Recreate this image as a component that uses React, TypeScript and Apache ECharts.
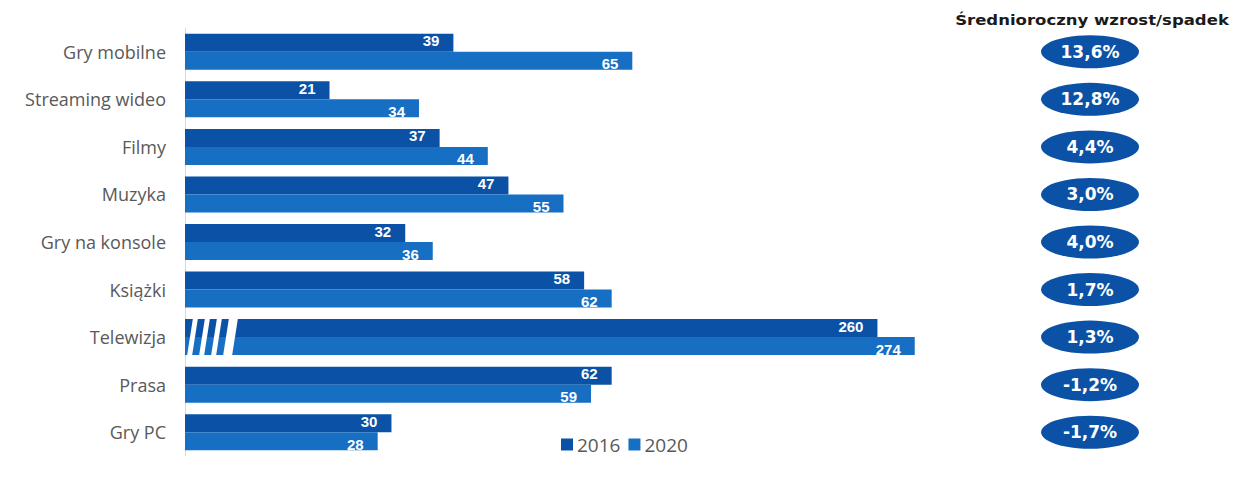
import React, { useEffect, useRef } from "react";
import * as echarts from "echarts";

const categories = ["Gry mobilne", "Streaming wideo", "Filmy", "Muzyka", "Gry na konsole", "Książki", "Telewizja", "Prasa", "Gry PC"];
const values2016 = [39, 21, 37, 47, 32, 58, 260, 62, 30];
const values2020 = [65, 34, 44, 55, 36, 62, 274, 59, 28];
const growth = ["13,6%", "12,8%", "4,4%", "3,0%", "4,0%", "1,7%", "1,3%", "-1,2%", "-1,7%"];
const seriesNames = ["2016", "2020"];
const growthTitle = "Średnioroczny wzrost/spadek";
// The "Telewizja" bars are drawn on a shortened (broken) scale in the original
const brokenCategory = "Telewizja";
const brokenFactor = 0.387;

const C2016 = "#0b52a6";
const C2020 = "#166fc3";

export default function App() {
  const ref = useRef<HTMLDivElement>(null);
  useEffect(() => {
    document.body.style.margin = "0";
    const chart = echarts.init(ref.current!, null, { renderer: "svg" });
    const mk = (vals: number[], off: number) =>
      vals.map((v, i) => ({
        value: categories[i] === brokenCategory ? v * brokenFactor : v,
        raw: v,
        label: { offset: [0, off] },
      }));
    const labelCfg = {
      show: true,
      position: "insideRight",
      distance: 14,
      color: "#ffffff",
      fontWeight: "bold",
      fontSize: 15,
      fontFamily: "'Liberation Sans Narrow', 'Liberation Sans', Arial, sans-serif",
      formatter: (p: any) => String(p.data.raw),
    };
    chart.setOption({
      animation: false,
      legend: {
        data: seriesNames,
        left: 556,
        top: 430,
        itemWidth: 12,
        itemHeight: 12,
        itemGap: 8,
        icon: "rect",
        textStyle: { color: "#595959", fontSize: 19, fontFamily: "'Open Sans', sans-serif", padding: [0, 0, 0, -1] },
      },
      grid: [
        { left: 185, top: 28, width: 757, height: 428 },
        { left: 1040, top: 28, width: 100, height: 428 },
      ],
      xAxis: [
        { type: "value", gridIndex: 0, min: 0, max: 110, show: false },
        { type: "value", gridIndex: 1, min: -1, max: 1, show: false },
      ],
      yAxis: [
        {
          type: "category",
          gridIndex: 0,
          data: categories,
          inverse: true,
          axisLine: { show: true, lineStyle: { color: "#d9d9d9", width: 1 } },
          axisTick: { show: false },
          axisLabel: { color: "#595959", fontSize: 18, margin: 19, fontFamily: "'Open Sans', sans-serif" },
        },
        { type: "category", gridIndex: 1, data: categories, inverse: true, show: false },
      ],
      series: [
        {
          name: seriesNames[0],
          type: "bar",
          xAxisIndex: 0,
          yAxisIndex: 0,
          data: mk(values2016, -2),
          barWidth: 18,
          barGap: "0%",
          itemStyle: { color: C2016 },
          label: labelCfg,
        },
        {
          name: seriesNames[1],
          type: "bar",
          xAxisIndex: 0,
          yAxisIndex: 0,
          data: mk(values2020, 3),
          barWidth: 18,
          barGap: "0%",
          itemStyle: { color: C2020 },
          label: labelCfg,
        },
        {
          type: "scatter",
          xAxisIndex: 1,
          yAxisIndex: 1,
          symbol: "circle",
          symbolSize: [98, 33],
          data: growth.map((g, i) => ({ value: [0, categories[i]], name: g })),
          itemStyle: { color: "#0b52a6", opacity: 1 },
          label: {
            show: true,
            position: "inside",
            formatter: (p: any) => p.data.name,
            color: "#ffffff",
            fontWeight: "bold",
            fontSize: 17,
            fontFamily: "'DejaVu Sans', sans-serif",
          },
          silent: true,
        },
      ],
    });

    // break marks on the Telewizja bar
    const start = chart.convertToPixel({ gridIndex: 0 }, [0, brokenCategory]) as number[];
    const x0 = start[0];
    const yc = start[1];
    const top = yc - 19;
    const bot = yc + 19;
    const gaps = [
      [5, 10],
      [17, 22],
      [29, 34],
      [41, 50],
    ];
    const slant = 3;
    const graphics: any[] = gaps.map(([a, b]) => ({
      type: "polygon",
      shape: {
        points: [
          [x0 + a + slant, top],
          [x0 + b + slant, top],
          [x0 + b - slant, bot],
          [x0 + a - slant, bot],
        ],
      },
      style: { fill: "#ffffff" },
      z: 100,
    }));
    const g0 = chart.convertToPixel({ gridIndex: 1 }, [0, categories[0]]) as number[];
    graphics.push({
      type: "text",
      x: g0[0] + 2,
      y: 20,
      scaleX: 1.18,
      style: {
        text: growthTitle,
        fill: "#1a1a1a",
        font: "bold 14px 'DejaVu Sans', Verdana, sans-serif",
        align: "center",
        verticalAlign: "middle",
      },
    });
    chart.setOption({ graphic: graphics });

    return () => chart.dispose();
  }, []);
  return <div ref={ref} style={{ width: 1244, height: 482 }} />;
}
